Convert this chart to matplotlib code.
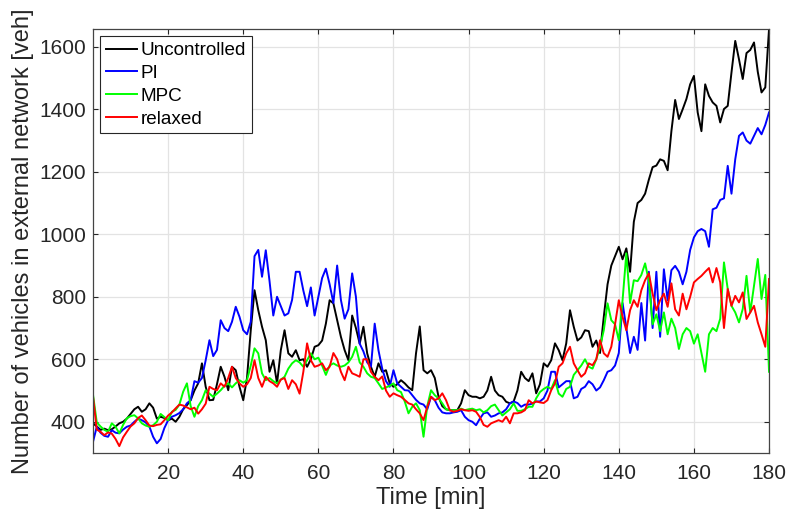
import numpy as np
import matplotlib
matplotlib.use("Agg")
import matplotlib.pyplot as plt

plt.rcParams['font.family'] = ['Liberation Sans', 'DejaVu Sans']

# time in minutes, one sample per minute
t = np.arange(0, 181)

uncontrolled = [
    395, 385, 374, 378, 373, 376, 385, 395, 400, 410, 425, 440, 448, 432, 440, 459, 445, 410, 416, 412,
    405, 410, 400, 416, 440, 453, 469,
    500, 523, 587, 512, 469, 470, 520, 576, 544, 501, 576, 565, 512, 469, 540, 693, 821, 757, 704, 661,
    560, 597, 523, 629, 693, 619,
    608, 629, 597, 600, 576, 600, 640, 645, 660, 714, 789, 779, 725, 672, 629, 597, 740, 700, 650, 704,
    619, 576, 544, 587, 560,
    565, 523, 512, 520, 533, 523, 510, 501, 619, 705, 565, 555, 565, 540, 480, 450, 440, 437, 437, 437,
    459, 501, 485, 480, 480, 475,
    480, 500, 544, 500, 485, 480, 464, 459, 465, 500, 560, 540, 530, 555, 491, 520, 587, 576, 597, 651,
    629, 597, 651, 757, 704, 660, 670, 693, 690,
    640, 660, 620, 736, 840, 900, 930, 960, 920, 955, 880, 1040, 1100, 1110, 1130, 1175, 1215, 1220,
    1240, 1235, 1205, 1330,
    1430, 1369, 1400, 1433, 1480, 1507, 1390, 1330, 1480, 1443, 1422, 1411, 1358, 1401, 1411, 1518,
    1619, 1560, 1497, 1580, 1590, 1614, 1520, 1454, 1470, 1657,
]

pi_ctrl = [
    336, 384, 365, 355, 352, 373, 365, 363, 375, 384, 388, 400, 410, 405, 398, 385, 352, 331, 345, 380,
    405, 416, 421, 428, 440, 459, 469,
    530, 525, 540, 597, 661, 610, 630, 725, 700, 690, 720, 768, 736, 693, 680, 720, 930, 950, 864, 949,
    850, 740, 800, 770, 740, 747,
    790, 880, 880, 820, 770, 830, 740, 800, 860, 890, 840, 780, 900, 790, 730, 760, 875, 800, 650, 625,
    590, 576, 714, 629, 570,
    530, 512, 565, 523, 512, 501, 500, 485, 470, 459, 455, 440, 480, 469, 445, 430, 427, 427, 430, 432,
    437, 416, 405, 400, 389, 410,
    427, 430, 416, 420, 427, 430, 440, 459, 465, 460, 448, 455, 455, 458, 465, 465, 475, 500, 560, 560,
    510, 520, 530, 530, 475, 480, 505, 512, 530,
    520, 500, 510, 533, 560, 565, 580, 620, 780, 700, 620, 672, 630, 780, 660, 880, 700, 880, 672, 888,
    789, 885,
    899, 880, 840, 880, 950, 990, 1010, 1017, 1010, 960, 1080, 1085, 1110, 1115, 1219, 1130, 1240, 1315,
    1326, 1300, 1290, 1315, 1340, 1320, 1350, 1390,
]

mpc = [
    486, 398, 385, 374, 368, 395, 384, 363, 390, 411, 418, 421, 411, 395, 388, 384, 389, 400, 425, 415,
    405, 432, 438, 455, 496, 523, 450,
    416, 450, 469, 501, 490, 480, 490, 501, 515, 523, 510, 523, 533, 525, 533, 580, 635, 619, 555, 533,
    540, 530, 523, 535, 544, 570,
    587, 597, 590, 576, 597, 619, 600, 605, 580, 550, 580, 587, 580, 576, 580, 590, 608, 640, 590, 576,
    555, 544, 540, 523, 505,
    510, 515, 523, 501, 495, 465, 427, 448, 459, 437, 352, 450, 501, 485, 475, 459, 440, 437, 437, 437,
    442, 437, 440, 442, 437, 440,
    430, 437, 450, 455, 437, 420, 430, 440, 459, 435, 435, 440, 448, 448, 475, 495, 505, 512, 505, 533,
    490, 480, 505, 512, 550, 565, 580, 600, 576,
    570, 600, 640, 693, 779, 725, 712, 661, 789, 939, 780, 853, 850, 870, 907, 850, 712, 744, 690, 750,
    680, 730,
    700, 633, 680, 700, 690, 650, 680, 620, 560, 680, 700, 690, 730, 910, 825, 771, 750, 718, 761, 867,
    750, 835, 921, 793, 870, 560,
]

relaxed = [
    480, 375, 368, 357, 366, 362, 345, 322, 350, 368, 385, 395, 412, 420, 405, 388, 386, 390, 392, 405,
    420, 430, 443, 455, 452, 446, 440,
    445, 426, 440, 458, 512, 505, 501, 523, 512, 540, 576, 540, 523, 512, 520, 540, 597, 540, 512, 544,
    530, 523, 512, 535, 540, 505,
    533, 520, 490, 560, 651, 597, 576, 580, 587, 565, 576, 620, 600, 560, 533, 576, 555, 550, 544, 600,
    600, 560, 544, 533, 545,
    500, 480, 491, 485, 480, 470, 459, 455, 440, 427, 405, 448, 480, 469, 475, 491, 469, 437, 432, 435,
    440, 437, 435, 437, 432, 415,
    390, 384, 395, 400, 405, 400, 416, 395, 427, 427, 430, 437, 469, 459, 465, 462, 460, 469, 501, 523,
    576, 587, 619, 640, 587, 565, 544, 555, 587,
    581, 600, 661, 619, 608, 640, 712, 789, 736, 693, 757, 789, 768, 821, 853, 875, 810, 757, 789, 810,
    768, 843,
    760, 740, 810, 760, 800, 846, 857, 867, 880, 892, 846, 892, 846, 700, 825, 771, 803, 782, 814, 729,
    750, 771, 718, 680, 640, 857,
]

series = [
    ("Uncontrolled", uncontrolled, "#000000"),
    ("PI", pi_ctrl, "#0000ff"),
    ("MPC", mpc, "#00ff00"),
    ("relaxed", relaxed, "#ff0000"),
]

xticks = [20, 40, 60, 80, 100, 120, 140, 160, 180]
yticks = [400, 600, 800, 1000, 1200, 1400, 1600]

fig = plt.figure(figsize=(7.89, 5.21), dpi=100)
ax = fig.add_axes([0.1179, 0.1305, 0.8568, 0.8138])

for name, vals, col in series:
    ax.plot(t, vals, color=col, lw=1.4, label=name)

ax.set_xlim(0, 180)
ax.set_ylim(300, 1657)
ax.set_xticks(xticks)
ax.set_yticks(yticks)
ax.grid(True, color="#e3e3e3", lw=0.9)
ax.set_axisbelow(True)
ax.tick_params(direction="in", length=3.6, width=0.8, top=True, right=True,
               labelsize=15, colors="#262626", pad=5)
ax.tick_params(axis="x", pad=8)
for s in ax.spines.values():
    s.set_color("#444444")
    s.set_linewidth(0.9)

ax.set_xlabel("Time [min]", fontsize=17, color="#262626", labelpad=3)
ax.set_ylabel("Number of vehicles in external network [veh]", fontsize=17,
              color="#262626", labelpad=4)

leg = ax.legend(loc="upper left", bbox_to_anchor=(0.0104, 0.983), borderaxespad=0,
                fontsize=13.6, frameon=True, fancybox=False, framealpha=1,
                edgecolor="#262626", handlelength=1.65, handletextpad=0.2,
                labelspacing=0.3, borderpad=0.3)
leg.get_frame().set_linewidth(0.8)

fig.savefig("out.png", dpi=100)
